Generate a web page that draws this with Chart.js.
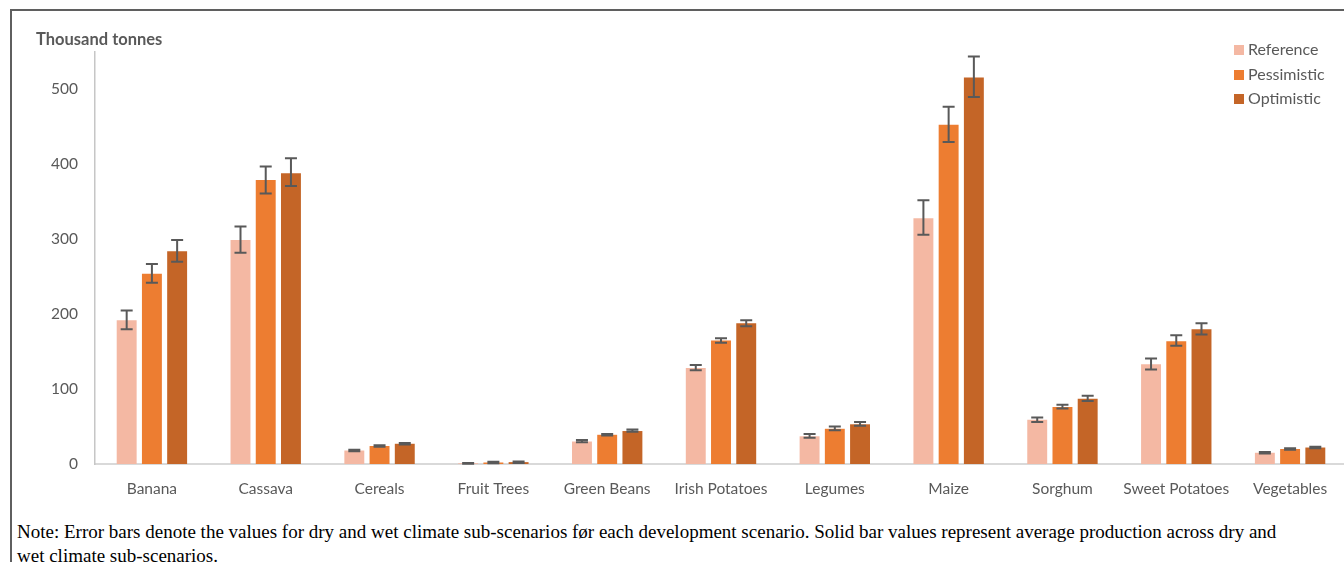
<!DOCTYPE html>
<html>
<head>
<meta charset="utf-8">
<script src="https://cdn.jsdelivr.net/npm/chart.js@4.4.1/dist/chart.umd.min.js"></script>
<style>
  html, body { margin: 0; padding: 0; background: #fff; }
  body { width: 1344px; height: 562px; overflow: hidden; position: relative; font-family: Lato, "Open Sans", sans-serif; }
  #frame { position: absolute; left: 10px; top: 9px; width: 1400px; height: 600px;
           border-left: 2px solid #5f5f5f; border-top: 2px solid #5f5f5f; }
  #wrap { position: absolute; left: 0; top: 0; width: 1350px; height: 500px; }
  #unit { position: absolute; left: 36px; top: 29px; font: bold 16.5px Lato, sans-serif; color: #595959; white-space: nowrap; }
  #legend { position: absolute; left: 1234px; top: 37px; font: 16px Lato, sans-serif; color: #595959; }
  #legend div { height: 24.5px; line-height: 24px; white-space: nowrap; }
  #legend span { display: inline-block; width: 10px; height: 10px; margin-right: 4px; vertical-align: 0px; }
  #note { position: absolute; left: 17px; top: 520px; font-family: "Liberation Serif", "DejaVu Serif", serif; font-size: 16px; color: #000; line-height: 24px; white-space: nowrap; }
</style>
</head>
<body>
<div id="frame"></div>
<div id="wrap"><canvas id="c"></canvas></div>
<div id="unit">Thousand tonnes</div>
<div id="legend"></div>
<div id="note"><div id="n1">Note: Error bars denote the values for dry and wet climate sub-scenarios før each development scenario. Solid bar values represent average production across dry and</div><div id="n2">wet climate sub-scenarios.</div></div>
<script>
// Crop production by development scenario (thousand tonnes)
const categories = ['Banana', 'Cassava', 'Cereals', 'Fruit Trees', 'Green Beans', 'Irish Potatoes',
                    'Legumes', 'Maize', 'Sorghum', 'Sweet Potatoes', 'Vegetables'];

// Averages across dry and wet sub-scenarios
const reference   = [192, 299, 18, 1,   30, 128, 37, 328, 59, 133, 15];
const pessimistic = [254, 379, 24, 2,   39, 165, 47, 453, 76, 164, 20];
const optimistic  = [284, 388, 27, 2.5, 44, 188, 53, 516, 87, 180, 22];

// Dry / wet sub-scenario range for each bar
const referenceLow    = [180, 282, 17, 0.5, 29, 125, 35, 306, 56, 126, 14];
const referenceHigh   = [205, 317, 19, 1.5, 32, 132, 40, 352, 62, 141, 16];
const pessimisticLow  = [242, 361, 23, 1,   38, 162, 45, 430, 74, 158, 19];
const pessimisticHigh = [267, 397, 25, 3,   40, 168, 50, 477, 79, 172, 21];
const optimisticLow   = [270, 371, 26, 1.5, 43, 184, 51, 490, 84, 173, 21];
const optimisticHigh  = [299, 408, 28, 3.5, 46, 192, 56, 544, 91, 188, 23];

const yTicks = [0, 100, 200, 300, 400, 500];
const yMax = 550;

const seriesColors = ['#f4b8a3', '#ed7d31', '#c46527'];

const datasets = [
  { label: 'Reference',   data: reference,   low: referenceLow,   high: referenceHigh },
  { label: 'Pessimistic', data: pessimistic, low: pessimisticLow, high: pessimisticHigh },
  { label: 'Optimistic',  data: optimistic,  low: optimisticLow,  high: optimisticHigh }
].map((d, i) => Object.assign(d, {
  backgroundColor: seriesColors[i],
  borderWidth: 0,
  categoryPercentage: 0.665,
  barPercentage: 0.79
}));

// Whisker range drawn over each bar from its low/high values
const errorBars = {
  id: 'errorBars',
  afterDatasetsDraw(chart) {
    const ctx = chart.ctx;
    const y = chart.scales.y;
    ctx.save();
    ctx.strokeStyle = '#595959';
    ctx.lineWidth = 2;
    chart.data.datasets.forEach((ds, i) => {
      const meta = chart.getDatasetMeta(i);
      meta.data.forEach((bar, j) => {
        const x = bar.x;
        const yl = y.getPixelForValue(ds.low[j]);
        const yh = y.getPixelForValue(ds.high[j]);
        const cap = 6;
        ctx.beginPath();
        ctx.moveTo(x, yl); ctx.lineTo(x, yh);
        ctx.moveTo(x - cap, yl); ctx.lineTo(x + cap, yl);
        ctx.moveTo(x - cap, yh); ctx.lineTo(x + cap, yh);
        ctx.stroke();
      });
    });
    ctx.restore();
  }
};

const labelFont = { family: 'Lato', size: 15.5 };

new Chart(document.getElementById('c'), {
  type: 'bar',
  data: { labels: categories, datasets },
  options: {
    responsive: true,
    maintainAspectRatio: false,
    animation: false,
    layout: { padding: { left: 0, right: 3, top: 52, bottom: 0 } },
    plugins: { legend: { display: false }, tooltip: { enabled: false }, title: { display: false } },
    scales: {
      x: {
        grid: { display: false, drawTicks: false },
        border: { display: true, color: '#d9d9d9', width: 2 },
        ticks: { color: '#595959', font: labelFont, padding: 16, maxRotation: 0, autoSkip: false },
        afterFit(scale) { scale.height = 36; }
      },
      y: {
        min: 0,
        max: yMax,
        grid: { display: false, drawTicks: false },
        border: { display: true, color: '#c6c6c6', width: 1.5 },
        ticks: { color: '#595959', font: labelFont, padding: 17, stepSize: 100 },
        afterBuildTicks(scale) { scale.ticks = yTicks.map(v => ({ value: v })); },
        afterFit(scale) { scale.width = 95; }
      }
    }
  },
  plugins: [errorBars]
});

// Legend built from the datasets
const legend = document.getElementById('legend');
datasets.forEach(d => {
  const row = document.createElement('div');
  const sw = document.createElement('span');
  sw.style.background = d.backgroundColor;
  row.appendChild(sw);
  row.appendChild(document.createTextNode(d.label));
  legend.appendChild(row);
});

// Size the note so its first line spans the text column
(function () {
  const note = document.getElementById('note');
  const n1 = document.getElementById('n1');
  const w = n1.getBoundingClientRect().width;
  const target = 1277 - 17;
  note.style.fontSize = (16 * target / w).toFixed(2) + 'px';
})();
</script>
</body>
</html>
